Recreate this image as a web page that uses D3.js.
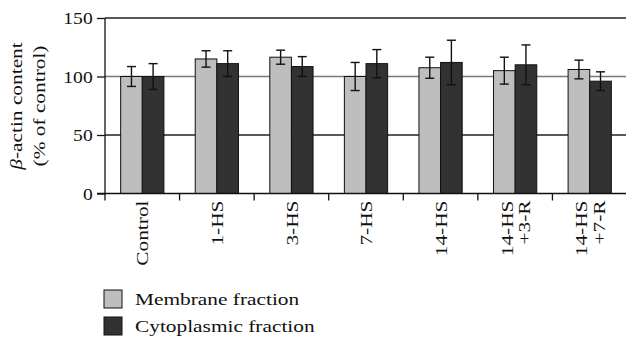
<html>
<head>
<script src="https://d3js.org/d3.v7.min.js"></script>
<style>
body { margin: 0; background: #fff; }
svg { display: block; }
text { font-family: "Liberation Serif", "Times New Roman", serif; fill: #111; }
</style>
</head>
<body>
<svg></svg>
<script>

var width = 626;
var height = 340;

// data
var categories = ["Control", "1-HS", "3-HS", "7-HS", "14-HS", "14-HS\n+3-R", "14-HS\n+7-R"];
var membrane = [100, 115, 116.5, 100, 107.5, 105, 106];
var membraneErr = [8.5, 7, 6, 12, 9, 11.5, 8];
var cytoplasmic = [100, 111, 108.5, 111, 112, 110, 96];
var cytoplasmicErr = [11, 11, 8.5, 12, 19, 17, 8];
var yTicks = [0, 50, 100, 150];
var seriesNames = ["Membrane fraction", "Cytoplasmic fraction"];
var seriesColors = ["#bebebe", "#323232"];

var svg = d3.select("svg").attr("width", width).attr("height", height);

var plotLeft = 105, plotRight = 627, plotTop = 18, plotBottom = 193.5;
var fontSize = "17.5px";
var stretch = "scale(1.22,1)";   // the original serif face runs wider than Liberation Serif

var xScale = d3.scaleBand()
.domain(categories)
.range([plotLeft, plotRight])
.paddingInner(0.42)
.paddingOuter(0.21);

var yScale = d3.scaleLinear()
.domain([0, 150])
.range([plotBottom, plotTop]);

// gridlines
svg.selectAll("line.grid").data(yTicks.filter(function(d) { return d > 0; })).enter().append("line")
.attr("class", "grid")
.attr("x1", plotLeft).attr("x2", width)
.attr("y1", function(d) { return yScale(d); })
.attr("y2", function(d) { return yScale(d); })
.style("stroke", function(d) { return d == 100 ? "#7a7a7a" : "#222"; })
.style("stroke-width", 1.3);

// bars
var half = xScale.bandwidth() / 2;
var rows = categories.map(function(c, i) {
	return [
		{ cat: c, k: 0, v: membrane[i], e: membraneErr[i] },
		{ cat: c, k: 1, v: cytoplasmic[i], e: cytoplasmicErr[i] }
	];
});
var flat = [].concat.apply([], rows);

svg.selectAll("rect.bar").data(flat).enter().append("rect")
.attr("class", "bar")
.attr("x", function(d) { return xScale(d.cat) + d.k * half; })
.attr("width", half)
.attr("y", function(d) { return yScale(d.v); })
.attr("height", function(d) { return yScale(0) - yScale(d.v); })
.style("fill", function(d) { return seriesColors[d.k]; })
.style("stroke", "#111")
.style("stroke-width", 1);

// error bars
var cap = 4.5;
var errs = svg.selectAll("g.err").data(flat).enter().append("g")
.attr("class", "err")
.attr("transform", function(d) { return "translate(" + (xScale(d.cat) + d.k * half + half / 2) + ",0)"; })
.style("stroke", "#111").style("stroke-width", 1.4);
errs.append("line")
.attr("y1", function(d) { return yScale(d.v + d.e); })
.attr("y2", function(d) { return yScale(d.v - d.e); });
errs.append("line").attr("x1", -cap).attr("x2", cap)
.attr("y1", function(d) { return yScale(d.v + d.e); })
.attr("y2", function(d) { return yScale(d.v + d.e); });
errs.append("line").attr("x1", -cap).attr("x2", cap)
.attr("y1", function(d) { return yScale(d.v - d.e); })
.attr("y2", function(d) { return yScale(d.v - d.e); });

// y axis
var yAxis = svg.append("g")
.attr("transform", "translate(" + plotLeft + ",0)")
.call(d3.axisLeft(yScale).tickValues(yTicks).tickSize(8).tickPadding(3));
yAxis.select(".domain").remove();
yAxis.append("line").attr("y1", yScale(0)).attr("y2", yScale(150)).style("stroke", "#111").style("stroke-width", 1.3);
yAxis.selectAll(".tick line").style("stroke", "#111").style("stroke-width", 1.3);
yAxis.selectAll(".tick text")
.attr("transform", "scale(1.12,1)")
.style("font-size", fontSize).style("font-family", "Liberation Serif, serif").style("fill", "#111");

// x axis baseline and boundary ticks
svg.append("line")
.attr("x1", plotLeft - 8).attr("x2", width)
.attr("y1", plotBottom).attr("y2", plotBottom)
.style("stroke", "#111").style("stroke-width", 1.3);
svg.selectAll("line.xtick").data(categories).enter().append("line")
.attr("class", "xtick")
.attr("x1", function(d) { return xScale(d) - xScale.step() * xScale.paddingInner() / 2; })
.attr("x2", function(d) { return xScale(d) - xScale.step() * xScale.paddingInner() / 2; })
.attr("y1", plotBottom).attr("y2", plotBottom + 7)
.style("stroke", "#111").style("stroke-width", 1.3);

// category labels, rotated
var labels = svg.selectAll("text.cat").data(categories).enter().append("text")
.attr("class", "cat")
.attr("transform", function(d) { return "translate(" + (xScale(d) + half) + "," + (plotBottom + 7) + ") rotate(-90) " + stretch; })
.attr("text-anchor", "end")
.style("font-size", fontSize);
labels.each(function(d) {
	var parts = d.split("\n");
	var t = d3.select(this);
	parts.forEach(function(p, j) {
		t.append("tspan").attr("x", 0)
		.attr("dy", j == 0 ? (0.35 - (parts.length - 1) * 0.5) + "em" : "1em")
		.text(p);
	});
});

// y title
var yt = svg.append("text")
.attr("transform", "translate(22,106) rotate(-90) " + stretch)
.attr("text-anchor", "middle")
.style("font-size", fontSize);
yt.append("tspan").style("font-style", "italic").text("β");
yt.append("tspan").text("-actin content");
yt.append("tspan").attr("x", 0).attr("dy", "1.3em").text("(% of control)");

// legend
var legend = svg.selectAll("g.legend").data(seriesNames).enter().append("g")
.attr("class", "legend")
.attr("transform", function(d, i) { return "translate(104," + (290 + i * 27) + ")"; });
legend.append("rect").attr("width", 18).attr("height", 18)
.style("fill", function(d, i) { return seriesColors[i]; })
.style("stroke", "#111").style("stroke-width", 1);
legend.append("text")
.attr("transform", "translate(31,15) " + stretch)
.style("font-size", fontSize)
.text(function(d) { return d; });

</script>
</body>
</html>
